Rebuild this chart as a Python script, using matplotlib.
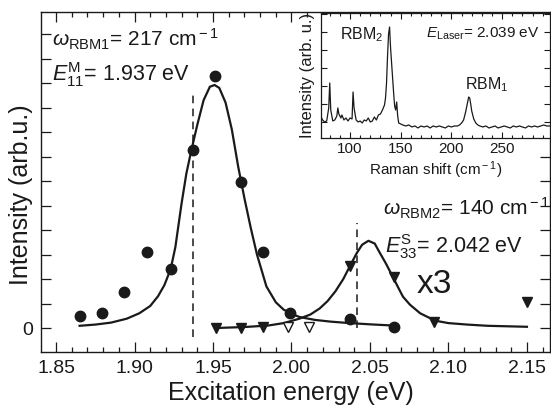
import numpy as np
import matplotlib
matplotlib.use('Agg')
import matplotlib.pyplot as plt
from matplotlib.ticker import MultipleLocator

plt.rcParams['font.family'] = ['Liberation Sans', 'DejaVu Sans']
plt.rcParams['mathtext.fontset'] = 'custom'
plt.rcParams['mathtext.rm'] = 'Liberation Sans'
plt.rcParams['mathtext.it'] = 'Liberation Sans:italic'
plt.rcParams['mathtext.bf'] = 'Liberation Sans:bold'

ink = '#1a1a1a'

# RBM1 resonance profile (circles)
rbm1_e = [1.865, 1.879, 1.893, 1.908, 1.923, 1.937, 1.951, 1.968, 1.982, 1.999, 2.037, 2.065]
rbm1_i = [0.49, 0.60, 1.47, 3.10, 2.42, 7.28, 10.29, 5.97, 3.09, 0.60, 0.37, 0.05]

# RBM2 resonance profile (triangles, x3)
rbm2_e = [1.952, 1.968, 1.982, 2.037, 2.065, 2.091, 2.150]
rbm2_i = [0.00, 0.00, 0.05, 2.54, 2.10, 0.26, 1.07]
rbm2_open_e = [1.998, 2.011]
rbm2_open_i = [0.05, 0.05]

# fit curves
fit1_e = [1.865, 1.875, 1.885, 1.895, 1.903, 1.910, 1.915, 1.919, 1.923, 1.926,
          1.928, 1.930, 1.933, 1.936, 1.940, 1.944, 1.948, 1.951, 1.954, 1.958,
          1.962, 1.966, 1.970, 1.974, 1.978, 1.984, 1.990, 1.995, 2.000, 2.005,
          2.015, 2.025, 2.035, 2.050, 2.065]
fit1_i = [0.09, 0.14, 0.22, 0.38, 0.60, 0.90, 1.30, 1.75, 2.40, 3.30,
          4.20, 5.10, 6.30, 7.20, 8.30, 9.30, 9.85, 9.92, 9.80, 9.20,
          8.10, 6.60, 5.30, 4.10, 3.00, 1.70, 1.05, 0.75, 0.58, 0.45,
          0.33, 0.26, 0.21, 0.15, 0.10]

fit2_e = [1.952, 1.970, 1.985, 1.995, 2.005, 2.012, 2.018, 2.023, 2.028, 2.033,
          2.037, 2.0415, 2.045, 2.049, 2.053, 2.056, 2.060, 2.064, 2.068, 2.071,
          2.0755, 2.082, 2.0915, 2.100, 2.112, 2.125, 2.150]
fit2_i = [0.00, 0.04, 0.10, 0.20, 0.38, 0.55, 0.80, 1.10, 1.50, 2.00,
          2.50, 3.05, 3.40, 3.56, 3.45, 3.10, 2.65, 2.16, 1.65, 1.28,
          0.95, 0.60, 0.30, 0.20, 0.14, 0.09, 0.05]

e11 = 1.937
e33 = 2.042

# inset Raman spectrum at E_laser = 2.039 eV
raman_x = [71, 73, 75, 77, 79, 80, 81, 83, 85, 87, 88, 89, 91, 92, 94, 96, 98, 100,
           102, 103, 104, 106, 108, 110, 112, 114, 116, 118, 120, 122, 124, 126, 128,
           130, 132, 134, 135, 136, 137, 138, 139, 140, 141, 142, 143, 144, 145, 146,
           147, 148, 150, 152, 155, 158, 161, 164, 167, 170, 173, 176, 179, 182, 185,
           188, 191, 194, 197, 200, 203, 206, 208, 210, 212, 214, 216, 217, 218, 219,
           220, 222, 224, 226, 228, 231, 234, 237, 240, 243, 246, 249, 252, 255, 258,
           261, 264, 267, 270, 273, 276, 279, 282, 285, 288, 291, 294, 297]
raman_y = [22, 18, 16, 17, 30, 55, 28, 17, 18, 22, 30, 24, 20, 23, 18, 20, 17, 20,
           19, 46, 30, 18, 16, 17, 15, 18, 17, 20, 16, 17, 21, 18, 23,
           24, 28, 33, 40, 55, 82, 104, 111, 90, 75, 60, 45, 32, 28, 36,
           22, 15, 14, 13, 12, 13, 11, 12, 10, 12, 11, 12, 10, 12, 11,
           12, 11, 10, 12, 11, 12, 12, 13, 15, 18, 26, 36, 41, 40, 34,
           27, 19, 15, 13, 12, 11, 12, 10, 11, 12, 10, 11, 12, 11, 10,
           12, 11, 12, 11, 10, 12, 11, 12, 11, 12, 13, 12, 12]

fig = plt.figure(figsize=(5.51, 4.07), dpi=100)
ax = fig.add_axes([0.0744, 0.1351, 0.9238, 0.8354])

ax.plot(fit1_e, fit1_i, color=ink, lw=1.6, zorder=3)
ax.plot(fit2_e, fit2_i, color=ink, lw=1.6, zorder=3)
ax.plot(rbm1_e, rbm1_i, 'o', color=ink, ms=7.5, zorder=4)
ax.plot(rbm2_e, rbm2_i, 'v', color=ink, ms=7.5, zorder=4)
ax.plot(rbm2_open_e, rbm2_open_i, 'v', mfc='white', mec=ink, mew=1.0, ms=7.5, zorder=4)
ax.plot([e11, e11], [-0.37, 9.5], '--', color=ink, lw=1.1, dashes=(5, 3.5), zorder=2)
ax.plot([e33, e33], [0.0, 4.3], '--', color=ink, lw=1.1, dashes=(5, 3.5), zorder=2)

ax.set_xlim(1.8404, 2.1647)
ax.set_ylim(-0.98, 12.9)
ax.xaxis.set_minor_locator(MultipleLocator(0.01))
ax.set_xticks([1.85, 1.90, 1.95, 2.00, 2.05, 2.10, 2.15])
ax.set_xticklabels(['1.85', '1.90', '1.95', '2.00', '2.05', '2.10', '2.15'])
ax.set_yticks(range(0, 13))
ax.set_yticklabels(['0'] + [''] * 12)
ax.tick_params(which='both', direction='in', top=True, right=True, color=ink,
               labelcolor=ink, labelsize=14)
ax.tick_params(which='major', length=7, width=0.9, pad=6)
ax.tick_params(which='minor', length=3.5, width=0.9)
for s in ax.spines.values():
    s.set_color(ink)
    s.set_linewidth(1.0)

ax.set_xlabel('Excitation energy (eV)', fontsize=18, color=ink)
ax.xaxis.set_label_coords(0.491, -0.085)
ax.set_ylabel('Intensity (arb.u.)', fontsize=18, color=ink)
ax.yaxis.set_label_coords(-0.016, 0.462)

ax.text(0.022, 0.918, r'$\omega_{\rm RBM1}$= 217 cm$^{\rm -1}$', transform=ax.transAxes,
        fontsize=15, color=ink, va='center', ha='left')
ax.text(0.022, 0.815, r'$E_{\rm 11}^{\rm M}$= 1.937 eV', transform=ax.transAxes,
        fontsize=15.5, color=ink, va='center', ha='left')
ax.text(0.672, 0.423, r'$\omega_{\rm RBM2}$= 140 cm$^{\rm -1}$', transform=ax.transAxes,
        fontsize=15, color=ink, va='center', ha='left')
ax.text(0.676, 0.31, r'$E_{\rm 33}^{\rm S}$= 2.042 eV', transform=ax.transAxes,
        fontsize=15.5, color=ink, va='center', ha='left')
ax.text(0.738, 0.2, 'x3', transform=ax.transAxes, fontsize=24, color=ink,
        va='center', ha='left')

# inset
ins = fig.add_axes([0.5826, 0.661, 0.4156, 0.307])
ins.plot(raman_x, raman_y, color=ink, lw=0.9)
ins.set_xlim(71.4, 297.2)
ins.set_ylim(0, 125)
ins.set_xticks([100, 150, 200, 250])
ins.xaxis.set_minor_locator(MultipleLocator(10))
ins.set_yticks([16, 34, 52, 70, 88, 106, 124])
ins.set_yticklabels([])
ins.tick_params(which='both', direction='in', top=True, right=True, color=ink,
                labelcolor=ink, labelsize=11, pad=3)
ins.tick_params(which='major', length=4, width=0.8)
ins.tick_params(which='minor', length=2.5, width=0.8)
for s in ins.spines.values():
    s.set_color(ink)
    s.set_linewidth(0.9)
ins.set_xlabel('Raman shift (cm$^{\\rm -1}$)', fontsize=11, color=ink, labelpad=2)
ins.set_ylabel('Intensity (arb. u.)', fontsize=12, color=ink, labelpad=1)
ins.text(0.085, 0.83, r'RBM$_{\rm 2}$', transform=ins.transAxes, fontsize=11.5,
         color=ink, va='center', ha='left')
ins.text(0.63, 0.43, r'RBM$_{\rm 1}$', transform=ins.transAxes, fontsize=11.5,
         color=ink, va='center', ha='left')
ins.text(0.46, 0.83, r'$E_{\rm Laser}$= 2.039 eV', transform=ins.transAxes, fontsize=11,
         color=ink, va='center', ha='left')

fig.savefig('out.png', dpi=100)
